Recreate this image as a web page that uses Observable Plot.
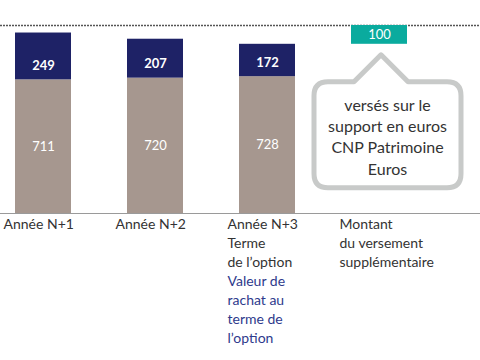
<!DOCTYPE html>
<html><head><meta charset="utf-8">
<script src="https://cdn.jsdelivr.net/npm/d3@7"></script>
<script src="https://cdn.jsdelivr.net/npm/@observablehq/plot@0.6"></script>
<style>
body{margin:0;background:#fff;}
#chart svg{display:block;font-family:Lato,"Noto Sans",sans-serif;}
</style>
</head><body>
<div id="chart"></div>
<script>
const categories = ["Année N+1", "Année N+2", "Année N+3", "Montant"];
const rachat = [711, 720, 728];
const gains = [249, 207, 172];
const versement = 100;
const axisLabels = ["Année N+1", "Année N+2", "Année N+3\nTerme\nde l’option", "Montant\ndu versement\nsupplémentaire"];
const blueLabel = "Valeur de\nrachat au\nterme de\nl’option";
const calloutLines = ["versés sur le", "support en euros", "CNP Patrimoine", "Euros"];
const levelLine = 1000;

const taupe = "#a6978f", navy = "#1e2266", teal = "#0aab9e", grayText = "#333333", blue = "#2e3a8c";

const stacked = [];
rachat.forEach((v, i) => stacked.push({cat: categories[i], series: "rachat", value: v}));
gains.forEach((v, i) => stacked.push({cat: categories[i], series: "gain", value: v}));
const lastTotal = rachat[2] + gains[2];
const tealData = [{cat: categories[3], y1: lastTotal, y2: lastTotal + versement, label: versement}];
const labelData = categories.map((c, i) => ({cat: c, text: axisLabels[i]}));

const callout = (index, scales, values, dimensions) => {
  const x = scales.x, y = scales.y;
  const bw = x.bandwidth ? x.bandwidth() : 56;
  const cx = x(categories[3]) + bw / 2 + 2;
  const apexY = y(lastTotal) + 11;
  const x0 = cx - 67, x1 = cx + 80, y0 = apexY + 27, y1 = apexY + 133, r = 14, hw = 27;
  const g = d3.create("svg:g");
  const p = `M${x0 + r},${y0} L${cx - hw},${y0} L${cx},${apexY} L${cx + hw},${y0} L${x1 - r},${y0}
    Q${x1},${y0} ${x1},${y0 + r} L${x1},${y1 - r} Q${x1},${y1} ${x1 - r},${y1} L${x0 + r},${y1}
    Q${x0},${y1} ${x0},${y1 - r} L${x0},${y0 + r} Q${x0},${y0} ${x0 + r},${y0} Z`;
  g.append("path").attr("d", p).attr("fill", "#fff").attr("stroke", "#c8cac9").attr("stroke-width", 5).attr("stroke-linejoin", "round");
  const tx = (x0 + x1) / 2;
  const t = g.append("text").attr("text-anchor", "middle").attr("fill", grayText).attr("font-size", 16);
  calloutLines.forEach((l, i) => t.append("tspan").attr("x", tx).attr("y", y0 + 29 + i * 21.3).text(l));
  return g.node();
};

const chart = Plot.plot({
  width: 480,
  height: 360,
  marginTop: 25,
  marginBottom: 147,
  marginLeft: 0,
  marginRight: 0,
  x: {domain: categories, range: [13, 408], paddingInner: 0.5, paddingOuter: 0, axis: null},
  y: {domain: [0, levelLine], axis: null},
  color: {domain: ["rachat", "gain"], range: [taupe, navy]},
  marks: [
    Plot.ruleY([levelLine], {stroke: "#555", strokeWidth: 1.5, strokeDasharray: "2,1"}),
    Plot.barY(stacked, {x: "cat", y: "value", fill: "series"}),
    Plot.barY(tealData, {x: "cat", y1: "y1", y2: "y2", fill: teal}),
    Plot.ruleY([0], {stroke: "#9a9a9a", strokeWidth: 1}),
    Plot.text(rachat.map((v, i) => ({cat: categories[i], v, y: v / 2})), {x: "cat", y: "y", text: d => String(d.v), fill: "#fff", fontSize: 13}),
    Plot.text(gains.map((v, i) => ({cat: categories[i], v, y: rachat[i]})), {x: "cat", y: "y", dy: -14, text: d => String(d.v), fill: "#fff", fontSize: 13, fontWeight: "bold"}),
    Plot.text(tealData, {x: "cat", y: d => (d.y1 + d.y2) / 2, text: d => String(d.label), fill: "#fff", fontSize: 13}),
    Plot.text(labelData, {x: "cat", frameAnchor: "bottom", text: "text", textAnchor: "start", lineAnchor: "top", dx: -40, dy: 2, lineHeight: 19 / 14, fontSize: 14, fill: grayText}),
    Plot.text([{cat: categories[2], text: blueLabel}], {x: "cat", frameAnchor: "bottom", text: "text", textAnchor: "start", lineAnchor: "top", dx: -40, dy: 2 + 3 * 19, lineHeight: 19 / 14, fontSize: 14, fill: blue}),
    callout
  ]
});
document.getElementById("chart").appendChild(chart);
</script>
</body></html>
